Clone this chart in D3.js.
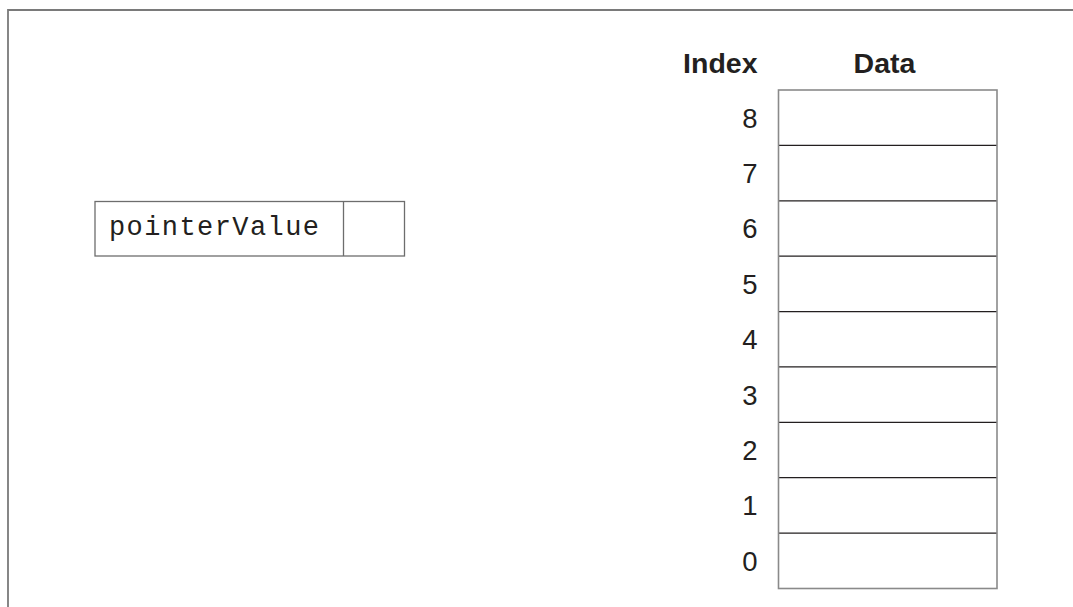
<!DOCTYPE html>
<html>
<head>
<meta charset="utf-8">
<script src="https://cdn.jsdelivr.net/npm/d3@7"></script>
<style>
  html, body { margin: 0; padding: 0; background: #fff; }
  svg { display: block; }
</style>
</head>
<body>
<div id="chart"></div>
<script>
// data
const indices = [0, 1, 2, 3, 4, 5, 6, 7, 8];
const dataValues = ["", "", "", "", "", "", "", "", ""];
const headers = ["Index", "Data"];
const pointerLabel = "pointerValue";
const pointerValue = "";

const width = 1073, height = 607;

const svg = d3.select("#chart").append("svg")
  .attr("width", width)
  .attr("height", height);

// outer frame (top + left only)
svg.append("path")
  .attr("d", `M8,${height} L8,10 L${width},10`)
  .attr("fill", "none")
  .attr("stroke", "#7a7a7a")
  .attr("stroke-width", 1.8);

// rows: 8 at the top, 0 at the bottom
const y = d3.scaleBand()
  .domain(indices.slice().reverse())
  .range([90, 588.5])
  .paddingInner(0);

const x = d3.scaleOrdinal()
  .domain(headers)
  .range([757.5, 884.5]);

const boxLeft = 778.5, boxRight = 997;

// headers
svg.append("g").selectAll("text")
  .data(headers)
  .join("text")
  .attr("x", d => x(d))
  .attr("y", 73)
  .attr("text-anchor", d => d === "Index" ? "end" : "middle")
  .attr("font-family", "Liberation Sans, Arial, sans-serif")
  .attr("font-weight", "bold")
  .attr("font-size", 28.5)
  .attr("fill", "#231f20")
  .text(d => d);

// data cells
const rows = svg.append("g");
rows.selectAll("rect")
  .data(indices)
  .join("rect")
  .attr("x", boxLeft)
  .attr("y", d => y(d))
  .attr("width", boxRight - boxLeft)
  .attr("height", y.bandwidth())
  .attr("fill", "#fff");

// inner dividers
rows.selectAll("line")
  .data(indices.slice(0, -1))
  .join("line")
  .attr("x1", boxLeft)
  .attr("x2", boxRight)
  .attr("y1", d => y(d))
  .attr("y2", d => y(d))
  .attr("stroke", "#231f20")
  .attr("stroke-width", 1.2);

// outline of the array
svg.append("rect")
  .attr("x", boxLeft)
  .attr("y", y(8))
  .attr("width", boxRight - boxLeft)
  .attr("height", y(0) + y.bandwidth() - y(8))
  .attr("fill", "none")
  .attr("stroke", "#8a8a8a")
  .attr("stroke-width", 1.6);

// index labels
svg.append("g").selectAll("text")
  .data(indices)
  .join("text")
  .attr("x", x("Index"))
  .attr("y", d => y(d) + y.bandwidth() / 2 + 10)
  .attr("text-anchor", "end")
  .attr("font-family", "Liberation Sans, Arial, sans-serif")
  .attr("font-size", 27.5)
  .attr("fill", "#231f20")
  .text(d => d);

// data values (empty cells)
svg.append("g").selectAll("text")
  .data(dataValues)
  .join("text")
  .attr("x", x("Data"))
  .attr("y", (d, i) => y(indices[i]) + y.bandwidth() / 2 + 10)
  .attr("text-anchor", "middle")
  .attr("font-size", 27.5)
  .text(d => d);

// pointer variable box
const pBox = { x0: 95, xDiv: 343.5, x1: 404.5, y0: 201.5, y1: 256 };
const pg = svg.append("g");
pg.append("rect")
  .attr("x", pBox.x0)
  .attr("y", pBox.y0)
  .attr("width", pBox.x1 - pBox.x0)
  .attr("height", pBox.y1 - pBox.y0)
  .attr("fill", "#fff")
  .attr("stroke", "#6d6d6d")
  .attr("stroke-width", 1.3);
pg.append("line")
  .attr("x1", pBox.xDiv).attr("x2", pBox.xDiv)
  .attr("y1", pBox.y0).attr("y2", pBox.y1)
  .attr("stroke", "#6d6d6d")
  .attr("stroke-width", 1.3);
pg.append("text")
  .attr("x", 109)
  .attr("y", 235)
  .attr("font-family", "Liberation Mono, Courier New, monospace")
  .attr("font-size", 27)
  .attr("textLength", 210)
  .attr("lengthAdjust", "spacing")
  .attr("fill", "#231f20")
  .text(pointerLabel);
pg.append("text")
  .attr("x", (pBox.xDiv + pBox.x1) / 2)
  .attr("y", 235)
  .attr("text-anchor", "middle")
  .attr("font-size", 27)
  .text(pointerValue);
</script>
</body>
</html>
